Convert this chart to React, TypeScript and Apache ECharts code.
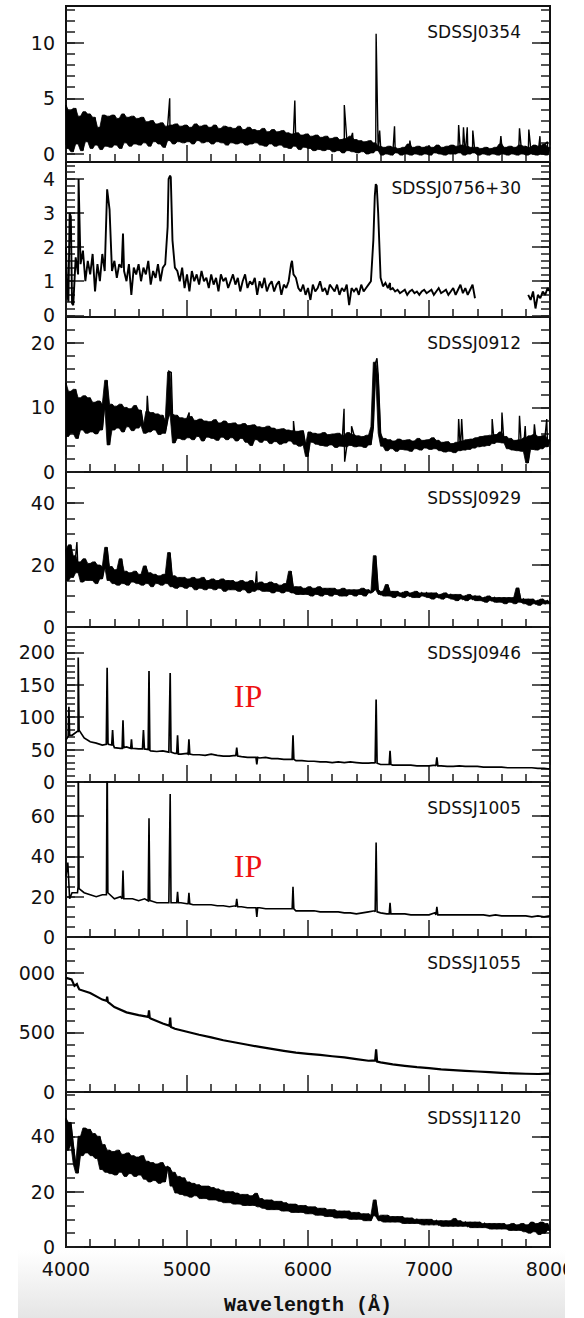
import React, { useEffect, useRef } from 'react';
import * as echarts from 'echarts';

// ---------- data ----------
const WAVE_MIN = 4000;
const WAVE_MAX = 8000;
const X_TICK_STEP = 1000;

const NAMES = ['SDSSJ0354', 'SDSSJ0756+30', 'SDSSJ0912', 'SDSSJ0929', 'SDSSJ0946', 'SDSSJ1005', 'SDSSJ1055', 'SDSSJ1120'];
const Y_MIN = [-0.72, -0.05, 0, 0, 0, 0, 0, 0];
const Y_MAX = [13.3, 4.5, 24, 50, 239, 77, 1300, 56];
const Y_MAJOR = [[0, 5, 10], [0, 1, 2, 3, 4], [0, 10, 20], [0, 20, 40], [0, 50, 100, 150, 200], [0, 20, 40, 60], [0, 500, 1000], [0, 20, 40]];
const Y_MINOR_STEP = [1, 0.2, 2, 5, 10, 5, 100, 5];

// sampling step (Angstrom) of each panel's flux list
const STEPS = [20, 20, 20, 20, 50, 50, 100, 20];
// panels whose noise forms a dense band
const NOISY = [true, false, true, true, false, false, false, true];

const P1_FLUX = [
  4.4, 0.5, 3.9, 0.2, 4.1, 0.9, 3.4, 0.3, 3.8, 1.1,
  3.6, 0.5, 3.3, 0.8, 2.4, 0.4, 3.5, 0.7, 3.4, 0.6,
  3.5, 0.8, 3.2, 0.5, 3.6, 1.0, 3.3, 0.7, 3.4, 0.9,
  3.2, 0.8, 3.3, 1.0, 2.9, 0.7, 3.0, 1.1, 2.7, 0.9,
  2.8, 0.6, 2.5, 1.2, 2.6, 0.9, 2.7, 1.1, 2.5, 1.0,
  2.6, 1.1, 2.4, 0.9, 2.7, 1.2, 2.5, 1.0, 2.6, 1.1,
  2.4, 0.9, 2.6, 1.1, 2.3, 1.0, 2.5, 0.8, 2.4, 1.0,
  2.3, 0.9, 2.5, 1.0, 2.2, 0.8, 2.4, 0.9, 2.2, 1.0,
  2.1, 0.8, 2.3, 0.7, 2.0, 0.9, 2.2, 0.7, 2.0, 0.8,
  2.1, 0.6, 1.9, 0.5, 1.8, 0.7, 1.9, 0.4, 1.7, 0.6,
  1.8, 0.5, 1.6, 0.3, 1.7, 0.4, 1.5, 0.3, 1.6, 0.4,
  1.4, 0.2, 1.5, 0.3, 1.3, 0.1, 1.4, 0.3, 1.6, 0.2,
  1.3, 0.1, 1.2, 0.2, 1.1, 0.0, 1.2, 0.1, 1.0, 0.3,
  0.7, -0.1, 0.6, 0.0, 0.7, -0.1, 0.6, 0.1, 0.5, -0.1,
  0.6, 0.0, 0.9, -0.1, 0.6, 0.0, 0.7, -0.1, 0.6, 0.0,
  0.7, -0.1, 0.6, 0.1, 0.8, 0.0, 0.6, -0.1, 0.7, 0.0,
  0.8, 0.0, 0.7, 0.1, 0.8, -0.1, 0.7, 0.0, 0.6, 0.1,
  0.6, -0.1, 0.5, 0.0, 0.6, -0.1, 0.5, 0.0, 0.6, -0.1,
  0.9, 0.0, 0.6, -0.1, 0.7, 0.0, 0.6, -0.1, 0.8, 0.0,
  0.7, -0.1, 0.6, 0.0, 0.8, -0.1, 0.7, 0.0, 0.9, -0.1,
  0.6,
];
const P1_LINES = [
  [4857, 5.0], [5891, 4.8], [6300, 4.4], [6368, 1.9], [6563, 10.8], [6592, 2.1], [6715, 2.5],
  [6842, 1.2], [7245, 2.6], [7285, 2.4], [7316, 2.4], [7362, 2.1], [7594, 1.6], [7748, 2.3],
  [7825, 2.2], [7917, 1.6], [7979, 1.1],
];

const P2_FLUX = [
  2.0, 0.4, 2.9, 0.3, 1.7, 1.2, 1.5, 1.9, 1.0, 1.6,
  1.2, 1.8, 0.7, 1.5, 1.0, 1.8, 1.3, 3.7, 3.1, 1.3,
  1.6, 1.1, 1.5, 1.4, 1.3, 1.0, 1.5, 0.6, 1.4, 1.2,
  1.5, 1.0, 1.4, 1.2, 1.6, 0.9, 1.3, 1.1, 1.5, 1.0,
  1.4, 1.5, 2.6, 4.1, 2.2, 1.4, 1.3, 1.0, 1.4, 0.8,
  1.2, 0.7, 1.3, 1.0, 1.2, 0.9, 1.3, 1.0, 1.1, 0.8,
  1.2, 0.9, 1.1, 0.7, 1.2, 1.0, 1.1, 0.8, 1.0, 1.2,
  0.9, 1.1, 0.7, 1.0, 1.2, 0.8, 1.0, 0.9, 1.1, 0.6,
  1.0, 0.8, 1.1, 0.7, 0.9, 1.0, 0.7, 0.9, 1.0, 0.6,
  0.9, 0.8, 1.0, 1.5, 1.2, 1.1, 0.8, 0.7, 0.9, 0.6,
  0.8, 0.45, 0.9, 0.7, 0.8, 1.0, 0.7, 0.8, 0.6, 0.9,
  0.8, 0.7, 0.9, 0.6, 0.8, 0.7, 0.9, 0.3, 0.8, 0.7,
  0.8, 0.6, 0.9, 0.7, 0.8, 0.9, 1.0, 2.2, 3.85, 3.0,
  1.1, 0.85, 0.95, 0.8, 0.75, 0.8, 0.7, 0.75, 0.65, 0.7,
  0.75, 0.6, 0.7, 0.75, 0.65, 0.7, 0.6, 0.7, 0.75, 0.65,
  0.7, 0.75, 0.6, 0.7, 0.8, 0.65, 0.7, 0.75, 0.6, 0.7,
  0.8, 0.6, 0.75, 0.9, 0.65, 0.8, 0.6, 0.75, 0.9, 0.5,
  null, null, null, null, null, null, null, null, null, null,
  null, null, null, null, null, null, null, null, null, null,
  null, 0.6, 0.45, 0.7, 0.2, 0.6, 0.5, 0.7, 0.6, 0.8,
  0.7,
];
const P2_LINES = [
  [4010, 0.6], [4030, 3.0], [4050, 0.35], [4104, 4.0], [4471, 2.4], [4848, 4.0], [4866, 4.05],
  [5868, 1.6], [6552, 3.5], [6568, 3.8], [6678, 0.95],
];

const P3_FLUX = [
  13.8, 5.5, 12.5, 6.0, 12.8, 5.2, 11.5, 6.5, 11.8, 6.0,
  11.5, 6.2, 10.8, 5.9, 11.0, 6.5, 10.5, 14.2, 4.2, 10.5,
  6.5, 10.2, 6.8, 10.5, 6.2, 10.0, 7.0, 9.8, 6.4, 10.3,
  6.8, 9.6, 7.2, 6.0, 9.4, 6.2, 9.2, 6.5, 9.0, 5.8,
  8.8, 6.0, 8.0, 15.5, 9.0, 4.5, 8.8, 5.2, 8.4, 5.0,
  8.3, 5.3, 8.6, 5.0, 8.0, 5.5, 8.2, 4.8, 7.9, 5.4,
  7.8, 5.2, 8.1, 4.9, 7.6, 5.4, 7.9, 5.0, 7.5, 5.3,
  7.6, 4.8, 7.3, 5.2, 7.5, 4.6, 7.2, 4.1, 7.3, 5.0,
  7.0, 4.6, 6.9, 4.9, 7.1, 4.4, 6.8, 4.7, 6.6, 4.3,
  6.7, 4.5, 6.5, 4.8, 6.4, 4.3, 6.3, 4.0, 6.4, 4.2,
  2.4, 6.2, 4.6, 6.0, 4.3, 5.9, 4.1, 6.1, 4.0, 5.8,
  4.2, 5.9, 3.8, 6.0, 4.0, 5.7, 3.9, 6.1, 4.1, 5.8,
  3.9, 5.6, 4.0, 5.5, 3.8, 5.7, 4.2, 7.0, 17.0, 15.0,
  6.0, 4.0, 5.2, 3.3, 5.0, 3.6, 4.8, 3.2, 5.1, 3.5,
  4.9, 3.4, 5.0, 3.2, 4.8, 3.6, 5.2, 3.4, 4.9, 3.7,
  5.0, 3.5, 5.3, 3.6, 4.9, 3.3, 4.6, 3.1, 4.7, 3.2,
  4.4, 3.0, 4.6, 3.3, 4.8, 3.4, 5.0, 3.5, 5.1, 3.7,
  5.3, 3.9, 5.5, 4.0, 5.6, 4.1, 5.7, 4.4, 5.8, 4.6,
  6.2, 4.5, 5.5, 3.6, 5.2, 3.4, 4.9, 3.3, 5.0, 3.2,
  5.3, 1.4, 5.6, 3.5, 5.8, 3.4, 5.5, 3.6, 5.7, 3.9,
  5.0,
];
const P3_LINES = [
  [4672, 11.8], [4850, 15.6], [4870, 15.4], [5018, 9.2], [5880, 7.9], [6298, 9.8], [6303, 1.6],
  [6360, 7.1], [6550, 15.5], [6570, 17.6], [7245, 8.2], [7270, 8.2], [7522, 8.2], [7603, 9.2],
  [7748, 8.7], [7795, 7.1], [7871, 7.4], [7973, 8.2],
];

const P4_FLUX = [
  25, 15, 26.5, 16, 23, 17.5, 21, 14.5, 22, 15,
  20.5, 15, 21, 14, 20, 15.5, 19.5, 25.7, 15, 19.5,
  14, 18.5, 13.5, 22, 14, 18, 13.5, 17.5, 14.5, 18,
  14, 17, 13.5, 19.7, 14, 17.5, 13, 17, 14, 16.5,
  13.5, 17, 14, 24, 13, 16.5, 12.5, 16, 13, 16,
  12.5, 15.5, 13, 16, 12, 15.5, 12.5, 16, 12, 15,
  12.5, 15.5, 12, 15, 12.5, 15.5, 11.5, 15, 12, 15,
  12, 14.5, 11.5, 15, 12, 14.5, 11, 15, 11.5, 14,
  12, 14.5, 11.5, 14, 11.5, 14.5, 11, 14, 11.5, 13.5,
  11, 14, 11.5, 18, 11, 13, 10.5, 13, 10.5, 12.5,
  10.5, 13, 10, 12.5, 10.5, 13, 10, 12.5, 10.5, 12.5,
  10, 12.5, 10.5, 12, 10, 12.5, 10, 12, 10.5, 12,
  10, 12, 10.5, 12.5, 10, 12, 11, 11.5, 23, 12,
  10.5, 11.5, 10, 13.7, 10, 11.5, 9.5, 11.5, 10, 11,
  9.5, 11.5, 10, 11, 9.5, 11.5, 9.5, 11, 10, 11,
  9.5, 11, 9, 11, 9.5, 10.5, 9, 11, 9.5, 10.5,
  9, 10.5, 8.5, 10.5, 9, 10, 8.5, 10.5, 9, 10,
  8.5, 10, 8.5, 9.5, 8, 10, 8.5, 9.5, 8, 9.5,
  8, 9.5, 7.5, 9.5, 8, 9.5, 7.5, 12.6, 8, 9,
  7.5, 9, 7, 9, 7.5, 8.5, 7, 9, 7.5, 8.5,
  7.5,
];
const P4_LINES = [[4090, 27.4], [5575, 18]];

const P5_FLUX = [
  65, 72, 78, 68, 62, 60, 57, 58, 53, 52,
  54, 52, 51, 50, 48, 47, 48, 46, 44, 43,
  44, 42, 42, 41, 43, 41, 40, 40, 41, 39,
  38, 38, 37, 38, 36, 36, 35, 35, 33, 33,
  32, 32, 31, 31, 30, 31, 30, 31, 30, 29,
  29, 30, 27, 27, 26, 26, 26, 26, 25, 25,
  25, 26, 25, 24, 24, 25, 24, 24, 24, 23,
  23, 23, 23, 22, 22, 22, 22, 22, 21, 21,
  20,
];
const P5_LINES = [
  [4018, 70], [4024, 116], [4030, 72],
  [4094, 78], [4101, 192], [4108, 80],
  [4333, 58], [4340, 176], [4347, 60],
  [4378, 57], [4385, 80], [4392, 57],
  [4464, 52], [4471, 95], [4478, 53],
  [4535, 52], [4541, 66], [4547, 52],
  [4632, 51], [4640, 80], [4648, 51],
  [4679, 50], [4686, 171], [4693, 49],
  [4854, 46], [4861, 168], [4868, 46],
  [4915, 44], [4922, 72], [4929, 43],
  [5009, 43], [5016, 66], [5023, 43],
  [5403, 40], [5411, 53], [5419, 40],
  [5570, 38], [5577, 27], [5584, 38],
  [5869, 35], [5876, 72], [5883, 35],
  [6555, 29], [6563, 127], [6571, 29],
  [6671, 27], [6678, 48], [6685, 27],
  [7057, 25], [7065, 38], [7073, 25],
];

const P6_FLUX = [
  30, 22, 25, 22, 21, 20, 21, 22, 19, 20,
  19, 19, 18, 19, 18, 17, 17, 17, 17, 17,
  16.5, 16, 16, 16, 16, 15.5, 15.5, 15, 15.5, 15,
  14.5, 14.5, 14.5, 14, 14, 14, 14, 14, 13, 13,
  13, 13, 12.5, 12.5, 12.5, 12.5, 12, 12, 11.5, 12,
  12.5, 13, 12, 11.5, 11.5, 11.5, 11.5, 11, 11, 11,
  11, 12, 11, 11, 11, 11, 11, 11, 11, 11,
  10.5, 11, 10.5, 10.5, 10.5, 10.5, 10.5, 10, 10.5, 10,
  10.5,
];
const P6_LINES = [
  [4015, 37], [4030, 19],
  [4095, 22], [4101, 95], [4108, 24],
  [4334, 21], [4340, 95], [4346, 22],
  [4464, 19], [4471, 33], [4478, 19],
  [4679, 18], [4686, 59], [4693, 18],
  [4854, 17], [4861, 71], [4868, 17],
  [4915, 17], [4922, 22.5], [4929, 17],
  [5009, 16.5], [5016, 22], [5023, 16.5],
  [5403, 15], [5411, 19], [5419, 15],
  [5570, 14.5], [5577, 10], [5584, 14.5],
  [5869, 14], [5876, 25], [5883, 14],
  [6555, 12.5], [6563, 47], [6571, 12.5],
  [6671, 11.5], [6678, 17], [6685, 11.5],
  [7057, 11], [7065, 15], [7073, 11],
];

const P7_FLUX = [
  957, 880, 830, 775, 712, 668, 645, 616, 575, 530,
  505, 480, 458, 434, 415, 396, 378, 361, 345, 331,
  320, 311, 300, 290, 276, 262, 248, 232, 219, 208,
  200, 190, 183, 177, 172, 166, 160, 156, 153, 151,
  154,
];
const P7_LINES = [
  [4046, 945], [4070, 890], [4090, 905], [4110, 860],
  [4335, 765], [4340, 800], [4346, 755],
  [4680, 630], [4686, 685], [4692, 622],
  [4855, 555], [4861, 625], [4867, 545],
  [6555, 265], [6563, 357], [6571, 255],
];

const P8_FLUX = [
  46.5, 35, 45, 37, 30, 26.7, 40, 33, 43, 34,
  42.5, 33, 41, 32, 40, 28, 37, 27, 35, 26.5,
  34.5, 26, 35, 27, 33.5, 25.5, 34, 26.5, 33, 25.5,
  32.5, 26, 33, 24.5, 31, 23.5, 30.5, 24, 30, 23,
  30.5, 23.5, 29, 28.5, 22, 27, 19.5, 25.5, 19, 25,
  18.5, 23.5, 18, 23, 18.5, 22.5, 17.5, 22, 17.5, 22,
  17, 21.5, 17, 21, 16.5, 20.5, 16, 20, 16, 20,
  15.5, 19.5, 15.5, 19, 15, 19, 15, 18.5, 15, 19.4,
  14.5, 17.5, 14, 17, 13.5, 17, 13.5, 16.5, 13.5, 16.5,
  13, 16, 13, 15.5, 12.5, 15.5, 12.5, 15, 12.5, 15,
  12, 14.5, 12, 14.5, 11.5, 14, 11.5, 14, 11, 13.5,
  11, 13.5, 10.5, 13, 10.5, 13, 10.5, 13, 10, 12.5,
  10, 12.5, 10, 12, 9.5, 12, 9.5, 11.5, 17, 11,
  9.5, 11.5, 9, 11.5, 9, 11, 9, 11, 9, 11,
  8.5, 10.5, 8.5, 10.5, 8.5, 10, 8.5, 10, 8, 10,
  8, 10, 8, 9.5, 8, 9.5, 7.5, 9.5, 7.5, 9.5,
  7.5, 10.3, 7.5, 9.5, 7.5, 9, 7.5, 9, 7, 9,
  7, 9, 7, 8.5, 7, 8.5, 6.5, 8.5, 6.5, 8.5,
  6.5, 8.5, 6.5, 8, 6, 8.5, 6, 8, 6, 8.5,
  5.5, 8, 5, 9, 5.5, 8.5, 4.5, 9, 5, 8.5,
  6,
];
const P8_LINES: number[][] = [];

const FLUXES = [P1_FLUX, P2_FLUX, P3_FLUX, P4_FLUX, P5_FLUX, P6_FLUX, P7_FLUX, P8_FLUX];
const LINES = [P1_LINES, P2_LINES, P3_LINES, P4_LINES, P5_LINES, P6_LINES, P7_LINES, P8_LINES];

// ---------- layout ----------
const W = 584;
const H = 1318;
const GRID_LEFT = 66;
const GRID_WIDTH = 484;
const TOPS = [6, 162, 317, 472, 627, 782, 937, 1092];
const BOTTOM = 1247;
const LINE_WIDTHS = [1.4, 1.9, 1.4, 1.4, 1.7, 1.6, 2.2, 1.4];

function buildSeriesData(step: number, flux: (number | null)[], extra: number[][]) {
  const pts: [number, number | null][] = flux.map((v, i) => [WAVE_MIN + i * step, v]);
  extra.forEach((p) => pts.push([p[0], p[1]]));
  pts.sort((a, b) => a[0] - b[0]);
  return pts.map((p) => (p[1] === null ? [p[0], '-'] : p));
}

// envelope of consecutive noisy samples (fills the gaps of the zigzag)
function buildBand(step: number, flux: (number | null)[]) {
  const high: number[][] = [];
  const low: number[][] = [];
  for (let i = 0; i < flux.length; i++) {
    const a = flux[i];
    const b = i + 1 < flux.length ? flux[i + 1] : flux[i];
    if (a === null || b === null) continue;
    const x = WAVE_MIN + i * step;
    high.push([x, Math.max(a, b)]);
    low.push([x, Math.min(a, b)]);
  }
  return { high, low };
}

function minorValues(i: number) {
  const step = Y_MINOR_STEP[i];
  const out: number[] = [];
  const start = Math.ceil(Y_MIN[i] / step);
  const end = Math.floor(Y_MAX[i] / step);
  for (let k = start; k <= end; k++) out.push(Math.round(k * step * 1000) / 1000);
  return out;
}

const TICK_COLOR = '#1c1c1c';
const FRAME_COLOR = '#111';
const plain = (v: number) => String(v);

function buildOption() {
  const grids: any[] = [];
  const xAxes: any[] = [];
  const yAxes: any[] = [];
  const series: any[] = [];
  const graphics: any[] = [];

  for (let i = 0; i < 8; i++) {
    const top = TOPS[i];
    const height = (i < 7 ? TOPS[i + 1] : BOTTOM) - top;
    grids.push({
      left: GRID_LEFT, width: GRID_WIDTH, top, height,
      show: true, borderColor: FRAME_COLOR, borderWidth: 2, backgroundColor: 'transparent',
    });
    xAxes.push({
      type: 'value', gridIndex: i, min: WAVE_MIN, max: WAVE_MAX, interval: X_TICK_STEP, position: 'bottom',
      axisLine: { show: true, onZero: false, lineStyle: { color: FRAME_COLOR, width: 2 } },
      axisTick: { show: true, inside: true, length: 17, lineStyle: { color: TICK_COLOR, width: 1.5 } },
      minorTick: { show: true, splitNumber: 5, length: 8, lineStyle: { color: TICK_COLOR, width: 1.5 } },
      axisLabel: { show: i === 7, formatter: plain, fontSize: 19, fontFamily: 'DejaVu Sans', color: '#111', margin: 12 },
      splitLine: { show: false },
      minorSplitLine: { show: false },
    });
    const majors = Y_MAJOR[i];
    const minors = minorValues(i);
    const base = {
      type: 'value', gridIndex: i, min: Y_MIN[i], max: Y_MAX[i],
      splitLine: { show: false },
      axisLine: { show: false, onZero: false },
    };
    yAxes.push({
      ...base, position: 'left',
      axisTick: { show: true, inside: true, length: 18, customValues: majors, lineStyle: { color: TICK_COLOR, width: 1.5 } },
      axisLabel: { show: true, customValues: majors, formatter: plain, fontSize: 19, fontFamily: 'DejaVu Sans', color: '#111', margin: 11 },
    });
    yAxes.push({
      ...base, position: 'left',
      axisTick: { show: true, inside: true, length: 9, customValues: minors, lineStyle: { color: TICK_COLOR, width: 1.5 } },
      axisLabel: { show: false },
    });
    yAxes.push({
      ...base, position: 'right',
      axisTick: { show: true, inside: true, length: 18, customValues: majors, lineStyle: { color: TICK_COLOR, width: 1.5 } },
      axisLabel: { show: false },
    });
    yAxes.push({
      ...base, position: 'right',
      axisTick: { show: true, inside: true, length: 9, customValues: minors, lineStyle: { color: TICK_COLOR, width: 1.5 } },
      axisLabel: { show: false },
    });

    if (NOISY[i]) {
      const band = buildBand(STEPS[i], FLUXES[i]);
      series.push({
        type: 'custom', name: NAMES[i] + ' noise', xAxisIndex: i, yAxisIndex: i * 4,
        silent: true, clip: true, z: 2,
        data: [[WAVE_MIN, 0]],
        renderItem: (_params: any, api: any) => {
          const up = band.high.map((p) => api.coord(p));
          const lo = band.low.map((p) => api.coord(p)).reverse();
          return { type: 'polygon', shape: { points: up.concat(lo) }, style: { fill: '#000', stroke: '#000', lineWidth: 0.8 } };
        },
      });
    }
    series.push({
      type: 'line', name: NAMES[i], xAxisIndex: i, yAxisIndex: i * 4, z: 3,
      data: buildSeriesData(STEPS[i], FLUXES[i], LINES[i]),
      showSymbol: false, symbol: 'none', clip: true, connectNulls: false,
      lineStyle: { color: '#000', width: LINE_WIDTHS[i], join: 'miter', miterLimit: 2 },
      silent: true,
    });
    graphics.push({
      type: 'text', x: 521, y: top + 26, z: 50,
      style: { text: NAMES[i], fill: '#111', fontSize: 17, fontFamily: 'DejaVu Sans', align: 'right', verticalAlign: 'middle' },
    });
  }

  // red annotations
  graphics.push({
    type: 'text', x: 248, y: 696, z: 50,
    style: { text: 'IP', fill: '#ee1111', fontSize: 32, fontFamily: 'Liberation Serif', align: 'center', verticalAlign: 'middle' },
  });
  graphics.push({
    type: 'text', x: 248, y: 866, z: 50,
    style: { text: 'IP', fill: '#ee1111', fontSize: 32, fontFamily: 'Liberation Serif', align: 'center', verticalAlign: 'middle' },
  });
  // axis title
  graphics.push({
    type: 'text', x: 308, y: 1305, z: 50,
    style: { text: 'Wavelength (Å)', fill: '#111', fontSize: 20, fontWeight: 'bold', fontFamily: 'Liberation Mono', align: 'center', verticalAlign: 'middle' },
  });
  // scan background band behind the axis labels
  graphics.push({
    type: 'rect', z: -10, shape: { x: 13, y: 1250, width: 553, height: 68 },
    style: { fill: new echarts.graphic.LinearGradient(0, 0, 0, 1, [{ offset: 0, color: '#ffffff' }, { offset: 1, color: '#e5e5e5' }]) },
  });
  // cropped page edges
  graphics.push({ type: 'rect', z: 100, shape: { x: 0, y: 0, width: 18, height: H }, style: { fill: '#ffffff' } });
  graphics.push({ type: 'rect', z: 100, shape: { x: 565, y: 1252, width: 19, height: 66 }, style: { fill: '#ffffff' } });

  return {
    animation: false,
    backgroundColor: '#ffffff',
    grid: grids,
    xAxis: xAxes,
    yAxis: yAxes,
    series,
    graphic: graphics,
  };
}

export default function App() {
  const ref = useRef<HTMLDivElement>(null);
  useEffect(() => {
    if (!ref.current) return;
    const chart = echarts.init(ref.current, null, { renderer: 'svg' });
    chart.setOption(buildOption() as any);
    return () => chart.dispose();
  }, []);
  return <div ref={ref} style={{ position: 'absolute', left: 0, top: 0, width: W, height: H, background: '#fff' }} />;
}
